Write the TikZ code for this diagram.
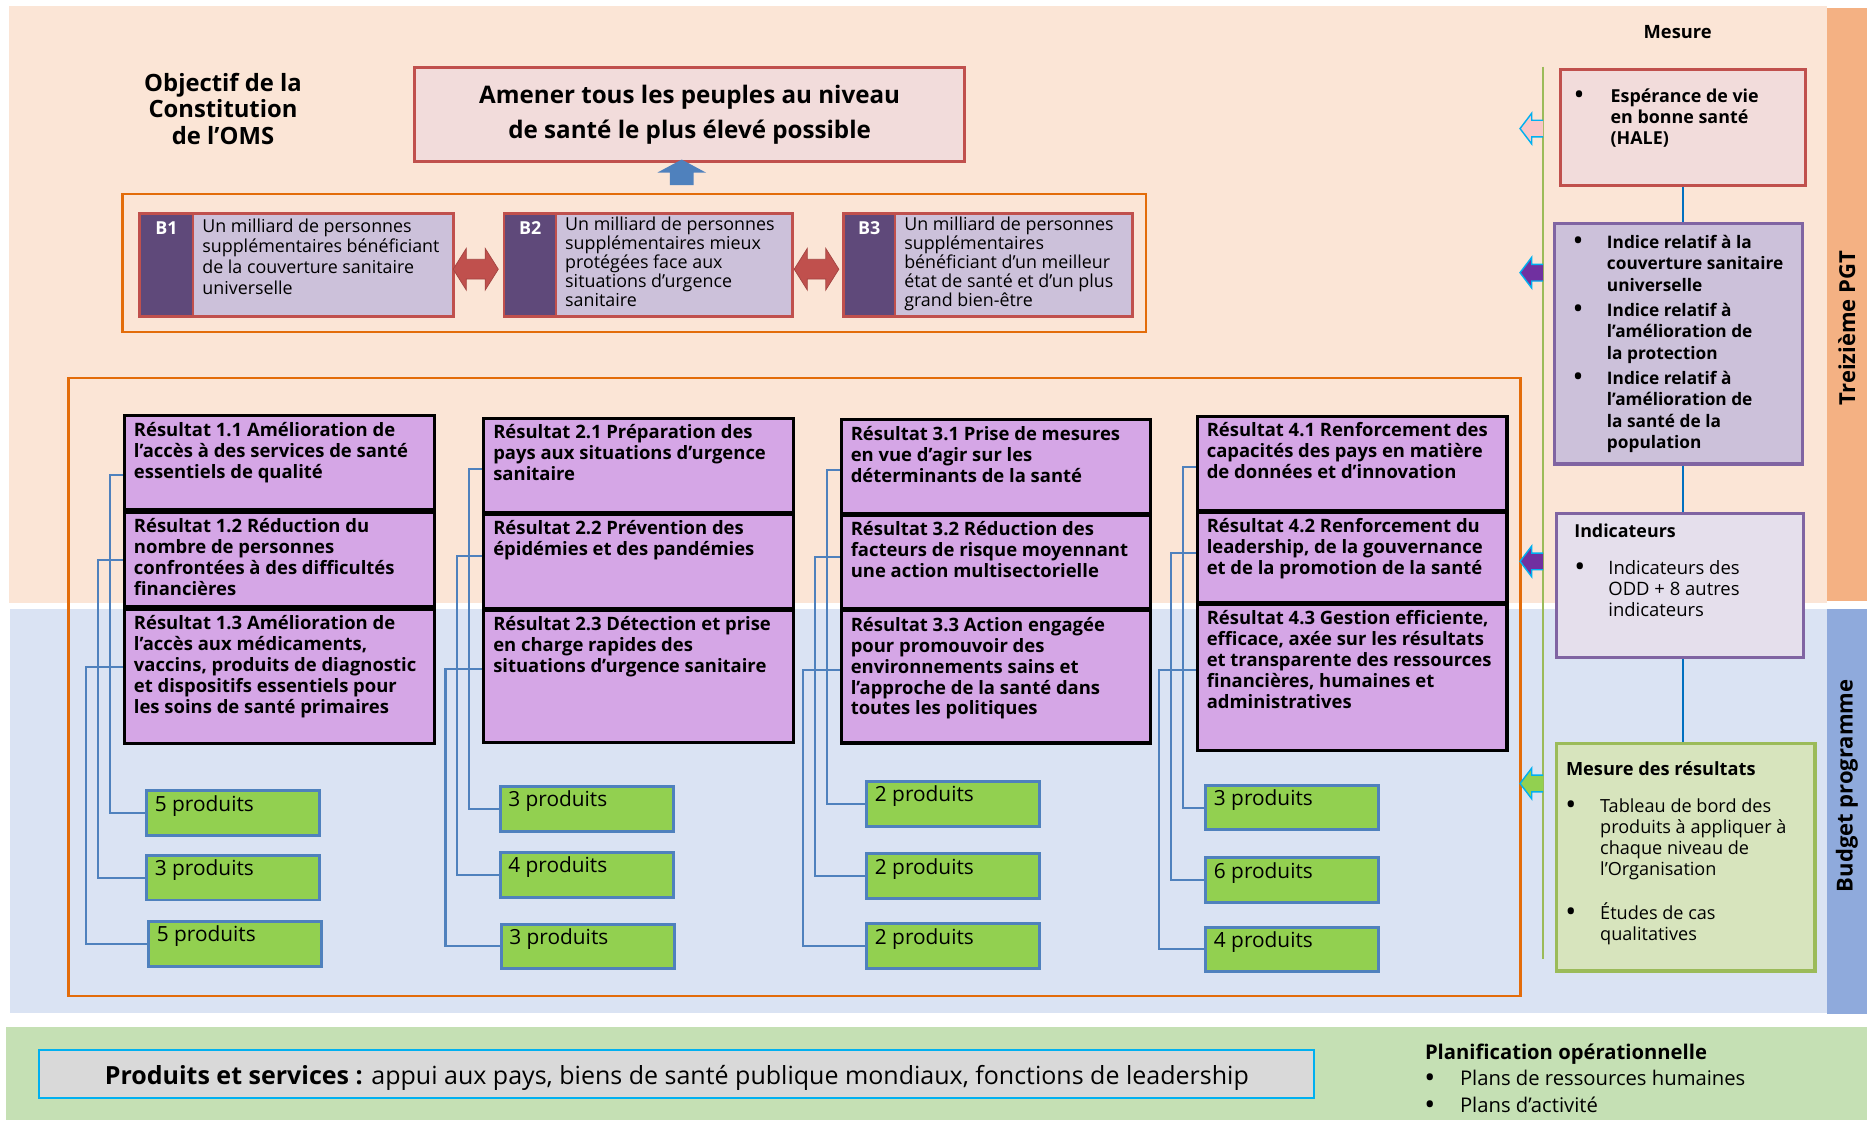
\documentclass[tikz,border=0pt]{standalone}
\usepackage{fontspec}
\setmainfont{Open Sans}
\usetikzlibrary{calc}
\newcommand\myfs[2]{\fontsize{#1}{#2}\selectfont}
\newcommand\bul{{\bfseries\fontsize{19}{19}\selectfont •}}
\definecolor{peach}{HTML}{FBE5D6}
\definecolor{orangebar}{HTML}{F4B183}
\definecolor{bluebg}{HTML}{DAE3F3}
\definecolor{bluebar}{HTML}{8FAADC}
\definecolor{greenband}{HTML}{C5E0B4}
\definecolor{pinkf}{HTML}{F2DCDB}
\definecolor{redb}{HTML}{C0504D}
\definecolor{bdark}{HTML}{5F497A}
\definecolor{blight}{HTML}{CCC1DA}
\definecolor{frameor}{HTML}{E36C0A}
\definecolor{arrowblue}{HTML}{4F81BD}
\definecolor{resfill}{HTML}{D5A6E6}
\definecolor{prodgreen}{HTML}{92D050}
\definecolor{prodblue}{HTML}{4F81BD}
\definecolor{gline}{HTML}{9BBB59}
\definecolor{rblue}{HTML}{0070C0}
\definecolor{purpb}{HTML}{8064A2}
\definecolor{indicf}{HTML}{E5DFEC}
\definecolor{mesf}{HTML}{D7E4BD}
\definecolor{greyf}{HTML}{D9D9D9}
\definecolor{cyanb}{HTML}{00B0F0}
\definecolor{arrpink}{HTML}{F9C6C6}
\definecolor{arrpurple}{HTML}{7030A0}
\begin{document}
\begin{tikzpicture}[x=1pt,y=-1pt,
  resbox/.style={draw=black, line width=2.6pt, fill=resfill, anchor=north west, inner sep=0pt, minimum width=260pt},
  restext/.style={anchor=north west, inner sep=0pt, align=left, font=\bfseries\myfs{15.5}{17.6}},
  pbox/.style={draw=prodblue, line width=2.5pt, fill=prodgreen, anchor=north west, inner sep=0pt, minimum width=145.5pt, minimum height=37.5pt},
  ptext/.style={anchor=north west, inner sep=0pt, font=\myfs{17.5}{20}},
  conn/.style={draw=prodblue, line width=1.8pt},
  bbox/.style={draw=redb, line width=2.5pt, fill=blight, anchor=north west, inner sep=0pt, minimum height=86.5pt},
  bdarkbox/.style={draw=redb, line width=2pt, fill=bdark, anchor=north west, inner sep=0pt, minimum height=86.5pt},
  blabel/.style={anchor=north, inner sep=0pt, text=white, font=\bfseries\myfs{15}{17}},
  btext/.style={anchor=north west, inner sep=0pt, align=left, font=\myfs{15}{15.8}},
  rbox/.style={anchor=north west, inner sep=0pt, line width=2.6pt},
  blist/.style={anchor=north west, inner sep=0pt},
  rline/.style={draw=rblue, line width=1.5pt},
  sidetext/.style={rotate=90, inner sep=0pt, font=\bfseries\myfs{18.5}{20}},
  larrow/.style={draw=cyanb, line width=1.2pt, line join=miter},
  darrow/.style={fill=redb, draw=redb!85!black, line width=0.6pt}
]
\useasboundingbox (0,0) rectangle (1568,941);

% ---------- background bands ----------
\fill[peach] (7.5,5) rectangle (1534,506.6);
\fill[orangebar] (1534,7) rectangle (1568,505);
\fill[bluebg] (8.6,511.6) rectangle (1534,851);
\fill[bluebar] (1534,511.6) rectangle (1568,851.6);
\fill[greenband] (5,862.6) rectangle (1568,941);
\node[sidetext] (pgt) at (1551,275.5) {Treizième PGT};
\node[sidetext] (bp) at (1551,660) {Budget programme};

% ---------- top ----------
\node[anchor=north, inner sep=0pt, align=center, font=\bfseries\myfs{20}{22.3}] (obj) at (187.3,61) {Objectif de la\\Constitution\\de l’OMS};
\node[draw=redb, line width=2.5pt, fill=pinkf, minimum width=462pt, minimum height=79pt, inner sep=0pt, align=center, font=\bfseries\myfs{20.3}{29}] (goal) at (579.2,96.2) {Amener tous les peuples au niveau\\de santé le plus élevé possible};
\fill[arrowblue] (562.5,155.4) -- (562.5,145) -- (552,145) -- (572.5,134) -- (593,145) -- (582.5,145) -- (582.5,155.4) -- cycle;

\draw[frameor, line width=2pt] (103,163) rectangle (962.5,278.6);

\node[bbox, minimum width=263pt] (b1) at (116.25,178.25) {};
\node[bdarkbox, minimum width=45pt] (b1d) at (b1.north west) {};
\node[blabel] (b1l) at ($(b1d.north)+(0,7.5)$) {B1};
\node[btext, font=\myfs{15}{17.5}] (b1t) at ($(b1d.north east)+(6.5,5)$) {Un milliard de personnes\\supplémentaires bénéficiant\\de la couverture sanitaire\\universelle};

\node[bbox, minimum width=242pt] (b2) at (422.5,178.25) {};
\node[bdarkbox, minimum width=43.5pt] (b2d) at (b2.north west) {};
\node[blabel] (b2l) at ($(b2d.north)+(0,7.5)$) {B2};
\node[btext] (b2t) at ($(b2d.north east)+(6.5,4)$) {Un milliard de personnes\\supplémentaires mieux\\protégées face aux\\situations d’urgence\\sanitaire};

\node[bbox, minimum width=242.5pt] (b3) at (707.25,178.25) {};
\node[bdarkbox, minimum width=43.5pt] (b3d) at (b3.north west) {};
\node[blabel] (b3l) at ($(b3d.north)+(0,7.5)$) {B3};
\node[btext] (b3t) at ($(b3d.north east)+(6.5,4)$) {Un milliard de personnes\\supplémentaires\\bénéficiant d’un meilleur\\état de santé et d’un plus\\grand bien-être};

\fill[darrow] (380.6,226.1) -- (391.6,208.6) -- (391.6,217.8) -- (407.5,217.8) -- (407.5,208.6) -- (418.5,226.1) -- (407.5,243.6) -- (407.5,234.4) -- (391.6,234.4) -- (391.6,243.6) -- cycle;
\fill[darrow] (667,226.1) -- (678,208.6) -- (678,217.8) -- (693.5,217.8) -- (693.5,208.6) -- (704.5,226.1) -- (693.5,243.6) -- (693.5,234.4) -- (678,234.4) -- (678,243.6) -- cycle;

% ---------- results frame ----------
\draw[frameor, line width=2pt] (57.5,317.6) rectangle (1277,836.6);

% column 1
\node[resbox, minimum height=79pt] (r11) at (103.3,348) {};
\node[resbox, minimum height=79.5pt] (r12) at (103.3,429) {};
\node[resbox, minimum height=113pt] (r13) at (103.3,510.5) {};
\node[restext] (r11t) at ($(r11.north west)+(9,6.5)$) {Résultat 1.1 Amélioration de\\l’accès à des services de santé\\essentiels de qualité};
\node[restext] (r12t) at ($(r12.north west)+(9,6.5)$) {Résultat 1.2 Réduction du\\nombre de personnes\\confrontées à des difficultés\\financières};
\node[restext] (r13t) at ($(r13.north west)+(9,6.5)$) {Résultat 1.3 Amélioration de\\l’accès aux médicaments,\\vaccins, produits de diagnostic\\et dispositifs essentiels pour\\les soins de santé primaires};

% column 2
\node[resbox, minimum height=79pt] (r21) at (405.1,350) {};
\node[resbox, minimum height=79pt] (r22) at (405.1,430.5) {};
\node[resbox, minimum height=111pt] (r23) at (405.1,511) {};
\node[restext] (r21t) at ($(r21.north west)+(9,6.5)$) {Résultat 2.1 Préparation des\\pays aux situations d’urgence\\sanitaire};
\node[restext] (r22t) at ($(r22.north west)+(9,6.5)$) {Résultat 2.2 Prévention des\\épidémies et des pandémies};
\node[restext] (r23t) at ($(r23.north west)+(9,6.5)$) {Résultat 2.3 Détection et prise\\en charge rapides des\\situations d’urgence sanitaire};

% column 3
\node[resbox, minimum height=78.7pt] (r31) at (705.3,351.3) {};
\node[resbox, minimum height=78.7pt] (r32) at (705.3,431.3) {};
\node[resbox, minimum height=111.2pt] (r33) at (705.3,511.5) {};
\node[restext] (r31t) at ($(r31.north west)+(9,6.5)$) {Résultat 3.1 Prise de mesures\\en vue d’agir sur les\\déterminants de la santé};
\node[restext] (r32t) at ($(r32.north west)+(9,6.5)$) {Résultat 3.2 Réduction des\\facteurs de risque moyennant\\une action multisectorielle};
\node[restext] (r33t) at ($(r33.north west)+(9,6.5)$) {Résultat 3.3 Action engagée\\pour promouvoir des\\environnements sains et\\l’approche de la santé dans\\toutes les politiques};

% column 4
\node[resbox, minimum height=79.3pt] (r41) at (1004.3,348.3) {};
\node[resbox, minimum height=75.6pt] (r42) at (1004.3,429) {};
\node[resbox, minimum height=123.2pt] (r43) at (1004.3,506) {};
\node[restext] (r41t) at ($(r41.north west)+(9,6.5)$) {Résultat 4.1 Renforcement des\\capacités des pays en matière\\de données et d’innovation};
\node[restext] (r42t) at ($(r42.north west)+(9,6.5)$) {Résultat 4.2 Renforcement du\\leadership, de la gouvernance\\et de la promotion de la santé};
\node[restext] (r43t) at ($(r43.north west)+(9,6.5)$) {Résultat 4.3 Gestion efficiente,\\efficace, axée sur les résultats\\et transparente des ressources\\financières, humaines et\\administratives};

% products
\node[pbox] (p11) at (121.9,662.8) {};
\node[pbox] (p12) at (121.9,717.1) {};
\node[pbox] (p13) at (123.5,772.6) {};
\node[pbox] (p21) at (418.7,659.2) {};
\node[pbox] (p22) at (418.7,714.6) {};
\node[pbox] (p23) at (419.6,774.8) {};
\node[pbox] (p31) at (726.6,655) {};
\node[pbox] (p32) at (726.6,715.7) {};
\node[pbox] (p33) at (726.6,774.5) {};
\node[pbox] (p41) at (1011.3,658.3) {};
\node[pbox] (p42) at (1011.3,719.3) {};
\node[pbox] (p43) at (1011.3,777.3) {};
\foreach \p/\t in {p11/5, p12/3, p13/5, p21/3, p22/4, p23/3, p31/2, p32/2, p33/2, p41/3, p42/6, p43/4}
  \node[ptext] (\p t) at ($(\p.north west)+(8,5)$) {\t{} produits};

% connectors
\draw[conn] ($(r11.west)+(0,10)$) -- ++(-11,0) |- (p11.west);
\draw[conn] (r12.west) -- ++(-21,0) |- (p12.west);
\draw[conn] ($(r13.west)+(0,-8)$) -- ++(-31,0) |- (p13.west);
\foreach \c in {2,3,4} {
  \draw[conn] ($(r\c1.west)+(0,3)$) -- ++(-11,0) |- (p\c1.west);
  \draw[conn] ($(r\c2.west)+(0,-4)$) -- ++(-21,0) |- (p\c2.west);
  \draw[conn] ($(r\c3.west)+(0,-6)$) -- ++(-31,0) |- (p\c3.west);
}

% ---------- right column ----------
\node[inner sep=0pt, font=\bfseries\myfs{15.4}{18}] (mesure) at (1409,27.3) {Mesure};
\coordinate (gtop) at (1296,56);
\coordinate (gbot) at (1296,805.4);
\draw[gline, line width=2pt] (gtop) -- (gbot);

\node[rbox, draw=redb, fill=pinkf, minimum width=205.7pt, minimum height=97.4pt] (hale) at (1309,57.3) {};
\node[blist, font=\bfseries\myfs{15}{17.5}] (halet) at (1322.5,74) {\begin{tabular}{@{}p{30pt}@{}l@{}}\bul&Espérance de vie\\&en bonne santé\\&(HALE)\end{tabular}};

\node[rbox, draw=purpb, fill=blight, minimum width=208.4pt, minimum height=201.8pt] (indice) at (1304.3,186.6) {};
\node[blist, font=\bfseries\myfs{14.5}{17.9}] (indicet) at (1321.5,196) {\begin{tabular}{@{}p{27.9pt}@{}l@{}}\bul&Indice relatif à la\\&couverture sanitaire\\&universelle\\[3.4pt]\bul&Indice relatif à\\&l’amélioration de\\&la protection\\[3.4pt]\bul&Indice relatif à\\&l’amélioration de\\&la santé de la\\&population\end{tabular}};

\node[rbox, draw=purpb, fill=indicf, minimum width=207.4pt, minimum height=120.9pt] (indic) at (1305.8,430) {};
\node[anchor=north west, inner sep=0pt, font=\bfseries\myfs{15}{17.5}] (indich) at (1322,439.6) {Indicateurs};
\node[blist, font=\myfs{15.5}{17.5}] (indict) at (1323,470.3) {\begin{tabular}{@{}p{27.6pt}@{}l@{}}\bul&Indicateurs des\\&ODD + 8 autres\\&indicateurs\end{tabular}};

\node[rbox, draw=gline, fill=mesf, minimum width=217.2pt, minimum height=190.9pt] (mres) at (1305.8,623.3) {};
\node[anchor=north west, inner sep=0pt, font=\bfseries\myfs{15.3}{17.7}] (mresh) at (1315,639.2) {Mesure des résultats};
\node[blist, font=\myfs{15.2}{17.7}] (mrest) at (1315.5,669.7) {\begin{tabular}{@{}p{28.2pt}@{}l@{}}\bul&Tableau de bord des\\&produits à appliquer à\\&chaque niveau de\\&l’Organisation\\&\\\bul&Études de cas\\&qualitatives\end{tabular}};

\draw[rline] (hale.south) -- (hale.south |- indice.north);
\draw[rline] (indice.south -| hale.south) -- (indic.north -| hale.south);
\draw[rline] (indic.south -| hale.south) -- (mres.north -| hale.south);

\foreach \yy/\cc in {108/arrpink, 229/arrpurple, 471.5/arrpurple, 658/prodgreen} {
  \filldraw[larrow, fill=\cc] (1296,{\yy-7}) -- (1286.4,{\yy-7}) -- (1286.4,{\yy-12.9}) -- (1276.6,\yy) -- (1286.4,{\yy+12.9}) -- (1286.4,{\yy+7}) -- (1296,{\yy+7});
}

% ---------- bottom ----------
\node[draw=cyanb, line width=2pt, fill=greyf, minimum width=1070.8pt, minimum height=40pt, inner sep=0pt] (prod) at (568.4,902) {};
\node[inner sep=0pt, font=\myfs{21}{24}] (prodt) at (568.4,905) {\textbf{Produits et services :} appui aux pays, biens de santé publique mondiaux, fonctions de leadership};
\node[anchor=north west, inner sep=0pt, font=\bfseries\myfs{17}{22.4}] (planh) at (1196.6,876.3) {Planification opérationnelle};
\node[blist, font=\myfs{17}{22.4}] (plant) at (1197,896) {\begin{tabular}{@{}p{29pt}@{}l@{}}\bul&Plans de ressources humaines\\\bul&Plans d’activité\end{tabular}};
\end{tikzpicture}
\end{document}
